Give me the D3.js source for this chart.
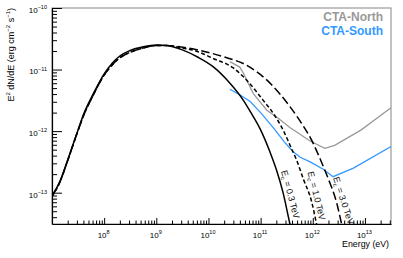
<!doctype html>
<html lang="en">
<head>
<meta charset="UTF-8">
<title>E2 dN/dE vs Energy</title>
<script src="https://d3js.org/d3.v7.min.js"></script>
<style>
body { margin: 0; background: #fff; }
svg text { font-family: "Liberation Sans", Arial, Helvetica, sans-serif; }
</style>
</head>
<body>
<div id="chart"></div>
<script>
// values, as decimal exponents: log10(E / eV), log10(E2 dN/dE / erg cm-2 s-1)
var riseLogE = [7.0, 7.15, 7.3, 7.5, 7.6, 7.8, 8.0, 8.15, 8.3, 8.5, 8.75, 9.0, 9.2];
var riseLogF = [-13.05, -12.82, -12.47, -11.98, -11.74, -11.38, -11.07, -10.90, -10.78, -10.69, -10.63, -10.60, -10.61];
var riseDashLogF = [-13.06, -12.83, -12.48, -11.99, -11.76, -11.40, -11.09, -10.93, -10.81, -10.72, -10.65, -10.61, -10.61];

var ec03LogE = [9.5, 9.8, 10.1, 10.4, 10.67, 10.8, 11.0, 11.18, 11.3, 11.43, 11.56, 11.6];
var ec03LogF = [-10.68, -10.80, -10.96, -11.21, -11.50, -11.68, -11.98, -12.34, -12.62, -13.00, -13.50, -13.65];

var ec10LogE = [9.45, 9.8, 10.09, 10.47, 10.73, 11.05, 11.25, 11.43, 11.59, 11.69, 11.82, 11.98, 12.07, 12.12];
var ec10LogF = [-10.64, -10.71, -10.82, -10.97, -11.17, -11.50, -11.72, -11.98, -12.28, -12.47, -12.78, -13.15, -13.50, -13.70];

var ec30LogE = [9.45, 9.84, 10.28, 10.73, 11.18, 11.56, 11.85, 11.98, 12.14, 12.30, 12.46, 12.55, 12.6];
var ec30LogF = [-10.63, -10.69, -10.79, -10.93, -11.22, -11.60, -11.96, -12.15, -12.45, -12.78, -13.17, -13.50, -13.70];

var northLogE = [10.41, 10.60, 10.67, 10.86, 11.12, 11.35, 11.56, 11.95, 12.23, 12.42, 12.93, 13.5];
var northLogF = [-10.87, -10.96, -11.06, -11.39, -11.66, -11.80, -11.94, -12.16, -12.28, -12.23, -11.98, -11.62];

var southLogE = [10.41, 10.60, 10.80, 11.0, 11.25, 11.45, 11.62, 11.75, 11.95, 12.20, 12.39, 12.78, 13.5];
var southLogF = [-11.32, -11.41, -11.52, -11.70, -11.95, -12.17, -12.33, -12.42, -12.50, -12.62, -12.74, -12.60, -12.25];

var cutoffNames = ["0.3", "1.0", "3.0"];
var cutoffLabelLogE = [11.39, 11.90, 12.386];
var cutoffLabelLogF = [-12.65, -12.67, -12.76];

var legendNames = ["CTA-North", "CTA-South"];
var xTickExp = [8, 9, 10, 11, 12, 13];
var yTickExp = [-10, -11, -12, -13];

var W = 403, H = 258;
var margin = {top: 8, right: 12, bottom: 34, left: 52};

var svg = d3.select("#chart").append("svg")
    .attr("width", W)
    .attr("height", H);

var x = d3.scaleLog().domain([1e7, Math.pow(10, 13.5)]).range([margin.left, W - margin.right]);
var y = d3.scaleLog().domain([3.1e-14, 1e-10]).range([H - margin.bottom, margin.top]);

function pts(le, lf) {
    return le.map(function(v, i) { return [Math.pow(10, v), Math.pow(10, lf[i])]; });
}

svg.append("defs").append("clipPath").attr("id", "clip")
    .append("rect")
    .attr("x", x.range()[0]).attr("y", y.range()[1])
    .attr("width", x.range()[1] - x.range()[0])
    .attr("height", y.range()[0] - y.range()[1]);

// frame
svg.append("rect")
    .attr("x", x.range()[0]).attr("y", y.range()[1])
    .attr("width", x.range()[1] - x.range()[0])
    .attr("height", y.range()[0] - y.range()[1])
    .attr("fill", "none")
    .attr("stroke", "#9a9a9a")
    .attr("stroke-width", 1.2);

// minor ticks
var xMinor = [], yMinor = [];
for (var e = 7; e <= 13; e++) {
    for (var m = 2; m <= 9; m++) {
        var v = m * Math.pow(10, e);
        if (v <= x.domain()[1]) xMinor.push(v);
    }
}
for (var e2 = -14; e2 <= -11; e2++) {
    for (var m2 = 2; m2 <= 9; m2++) {
        var v2 = m2 * Math.pow(10, e2);
        if (v2 >= y.domain()[0] && v2 <= y.domain()[1]) yMinor.push(v2);
    }
}

var bottom = y.range()[0], left = x.range()[0];

svg.append("g")
    .attr("transform", "translate(0," + bottom + ")")
    .call(d3.axisBottom(x).tickValues(xMinor).tickSize(-3.5).tickFormat(""))
    .call(function(g) { g.select(".domain").remove(); });

svg.append("g")
    .attr("transform", "translate(" + left + ",0)")
    .call(d3.axisLeft(y).tickValues(yMinor).tickSize(-5).tickFormat(""))
    .call(function(g) { g.select(".domain").remove(); });

var xAxis = svg.append("g")
    .attr("transform", "translate(0," + bottom + ")")
    .call(d3.axisBottom(x)
        .tickValues(xTickExp.map(function(d) { return Math.pow(10, d); }))
        .tickSize(-6).tickSizeOuter(0).tickPadding(8)
        .tickFormat(function(d, i) { return xTickExp[i]; }));

var yAxis = svg.append("g")
    .attr("transform", "translate(" + left + ",0)")
    .call(d3.axisLeft(y)
        .tickValues(yTickExp.map(function(d) { return Math.pow(10, d); }))
        .tickSize(-10).tickSizeOuter(0).tickPadding(5)
        .tickFormat(function(d, i) { return yTickExp[i]; }));

[xAxis, yAxis].forEach(function(g) {
    g.attr("font-size", null).attr("font-family", null);
    g.select(".domain").attr("stroke", "#000").attr("stroke-width", 1.2);
    g.selectAll(".tick line").attr("stroke", "#000");
    g.selectAll(".tick text").each(function() {
        var t = d3.select(this);
        var ex = t.text();
        t.text("").attr("font-size", 8).attr("fill", "#000");
        t.append("tspan").text("10");
        t.append("tspan").attr("font-size", 5.5).attr("dy", -3.6).text(ex.replace("-", "\u2212"));
    });
});
yAxis.selectAll(".tick text").attr("dy", "0.55em");
xAxis.selectAll(".tick text").attr("dx", -1);
svg.selectAll("g .tick line").attr("stroke-width", 1);

// axis titles
var yTitle = svg.append("text")
    .attr("transform", "translate(13.5," + margin.top + ") rotate(-90)")
    .attr("text-anchor", "end")
    .attr("font-size", 9);
yTitle.append("tspan").text("E");
yTitle.append("tspan").attr("font-size", 6).attr("dy", -3.5).text("2");
yTitle.append("tspan").attr("dy", 3.5).text(" dN/dE (erg cm");
yTitle.append("tspan").attr("font-size", 6).attr("dy", -3.5).text("\u22122");
yTitle.append("tspan").attr("dy", 3.5).text(" s");
yTitle.append("tspan").attr("font-size", 6).attr("dy", -3.5).text("\u22121");
yTitle.append("tspan").attr("dy", 3.5).text(")");

svg.append("text")
    .attr("x", x.range()[1] - 2)
    .attr("y", 246.5)
    .attr("text-anchor", "end")
    .attr("font-size", 8.8)
    .text("Energy (eV)");

// curves
var line = d3.line()
    .x(function(d) { return x(d[0]); })
    .y(function(d) { return y(d[1]); });

var plot = svg.append("g").attr("clip-path", "url(#clip)");

var models = [
    {p: pts(riseLogE.concat(ec03LogE), riseLogF.concat(ec03LogF)), dash: null},
    {p: pts(riseLogE.concat(ec10LogE), riseDashLogF.concat(ec10LogF)), dash: "4,2.5"},
    {p: pts(riseLogE.concat(ec30LogE), riseDashLogF.concat(ec30LogF)), dash: "8.5,3.5"}
];

var sens = [
    {p: pts(northLogE, northLogF), color: "#999999"},
    {p: pts(southLogE, southLogF), color: "#3399ff"}
];

sens.forEach(function(s) {
    plot.append("path")
        .attr("d", line.curve(d3.curveLinear)(s.p))
        .attr("fill", "none")
        .attr("stroke", s.color)
        .attr("stroke-width", 1.3);
});

models.forEach(function(mo) {
    plot.append("path")
        .attr("d", line.curve(d3.curveMonotoneX)(mo.p))
        .attr("fill", "none")
        .attr("stroke", "#000")
        .attr("stroke-width", 1.5)
        .attr("stroke-dasharray", mo.dash);
});

// cutoff labels
var angles = [75, 76, 72];
cutoffNames.forEach(function(n, i) {
    var t = svg.append("text")
        .attr("transform", "translate(" + x(Math.pow(10, cutoffLabelLogE[i])) + "," +
            y(Math.pow(10, cutoffLabelLogF[i])) + ") rotate(" + angles[i] + ")")
        .attr("font-size", 9)
        .attr("fill", "#111");
    t.append("tspan").text("E");
    t.append("tspan").attr("font-size", 6).attr("dy", 2).text("c");
    t.append("tspan").attr("dy", -2).text(" = " + n + " TeV");
});

// legend
var legendColors = ["#999999", "#3399ff"];
legendNames.forEach(function(n, i) {
    svg.append("text")
        .attr("x", 383)
        .attr("y", 21 + i * 14)
        .attr("text-anchor", "end")
        .attr("font-size", 12)
        .attr("font-weight", "bold")
        .attr("fill", legendColors[i])
        .text(n);
});
</script>
</body>
</html>
